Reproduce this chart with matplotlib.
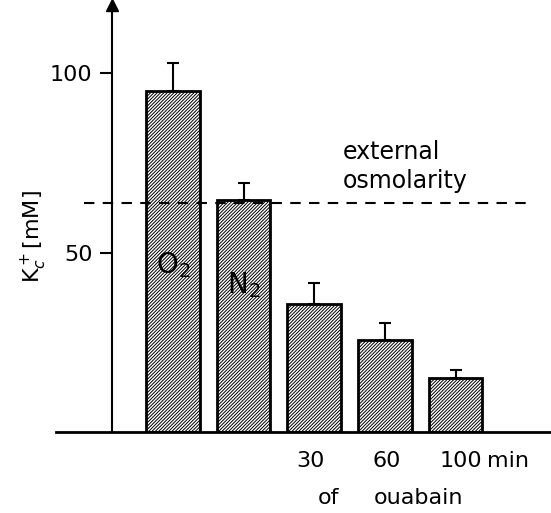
import matplotlib.pyplot as plt
import numpy as np

plt.rcParams['font.family'] = ['DejaVu Sans']
plt.rcParams['hatch.linewidth'] = 0.7

# K+ concentration per condition (mM) and upper SEM
conditions = ['O2', 'N2', '30', '60', '100']
kc_values = [95, 64.7, 35.6, 25.5, 15]
kc_err = [7.8, 4.8, 5.9, 5, 2.2]
osmolarity = 63.8

fig = plt.figure(figsize=(5.51, 5.13), dpi=100)
ax = fig.add_axes([0.203, 0.158, 0.797, 0.832])

x = np.arange(len(conditions))
ax.bar(x, kc_values, width=0.76, color='white', edgecolor='black',
       linewidth=2, hatch='//////////', zorder=2)
ax.errorbar(x, kc_values, yerr=[np.zeros(len(kc_err)), kc_err], fmt='none',
            ecolor='black', elinewidth=1.5, capsize=4.5, capthick=1.5, zorder=3)

# dashed reference line
ax.plot([-1.26, 5.11], [osmolarity, osmolarity], color='black', linestyle=(0, (5, 4)),
        linewidth=1.5, clip_on=False, zorder=4)
ax.text(2.41, 76, 'external', fontsize=17, ha='left', va='baseline')
ax.text(2.41, 68, 'osmolarity', fontsize=17, ha='left', va='baseline')

ax.text(0, 46.5, r'O$_2$', fontsize=20, ha='center', va='center', zorder=5)
ax.text(1, 41, r'N$_2$', fontsize=20, ha='center', va='center', zorder=5)

ax.set_xlim(-0.864, 5.35)
ax.set_ylim(0, 119)
ax.spines['top'].set_visible(False)
ax.spines['right'].set_visible(False)
ax.spines['bottom'].set_visible(False)
ax.spines['left'].set_linewidth(1.5)
# baseline runs a little past the y axis on the left
ax.plot([-1.66, 5.35], [0, 0], color='black', linewidth=2, clip_on=False, zorder=4)
ax.plot(-0.864, 119, marker='^', color='black', markersize=8, clip_on=False)

ax.set_xticks([])
ax.set_yticks([50, 100])
ax.tick_params(axis='y', length=9, width=1.5, pad=5, labelsize=16)
ax.set_ylabel(r'K$^+_c$[mM]', fontsize=16)
ax.yaxis.set_label_coords(-0.143, 0.457)

# ouabain time labels under the last three bars
for xi, lab in zip([1.95, 3.02, 4.07], conditions[2:]):
    ax.text(xi, -8, lab, fontsize=16, ha='center', va='center')
ax.text(4.74, -8, 'min', fontsize=16, ha='center', va='center')
ax.text(2.2, -18.5, 'of', fontsize=16, ha='center', va='center')
ax.text(3.47, -18.5, 'ouabain', fontsize=16, ha='center', va='center')

fig.savefig('out.png', dpi=100)
